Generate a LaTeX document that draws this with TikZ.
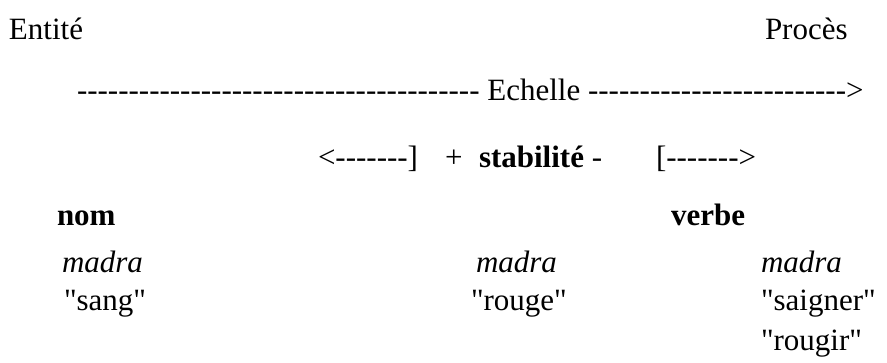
\documentclass[tikz,border=0pt]{standalone}
\usepackage{fontspec}
\setmainfont{Liberation Serif}[Ligatures=TeXOff]
\newcommand\hyrep[1]{\foreach \i in {1,...,#1}{-\kern0pt}}
\begin{document}
\begin{tikzpicture}[x=1pt,y=-1pt,
  txt/.style={anchor=base west,inner sep=0pt,outer sep=0pt,font=\fontsize{31}{36}\selectfont}]
\useasboundingbox (0,0) rectangle (887,362);
\node[txt] (entite) at (9,39) {Entité};
\node[txt] (proces) at (765,39) {Procès};
\node[txt] (echelle) at (77,100) {\hyrep{39} Echelle \hyrep{25}>};
\node[txt] (left) at (318,167) {<\hyrep{7}]};
\node[txt] (plus) at (445,167) {+};
\node[txt] (stab) at (479,167) {\textbf{stabilité} -};
\node[txt] (right) at (656,167) {[\hyrep{7}>};
\node[txt] (nom) at (57,225) {\textbf{nom}};
\node[txt] (verbe) at (671,225) {\textbf{verbe}};
\node[txt] (m1) at (62,272) {\textit{madra}};
\node[txt] (m2) at (476,272) {\textit{madra}};
\node[txt] (m3) at (761,272) {\textit{madra}};
\node[txt] (sang) at (64,310) {"sang"};
\node[txt] (rouge) at (471,310) {"rouge"};
\node[txt] (saigner) at (761,310) {"saigner"};
\node[txt] (rougir) at (761,350) {"rougir"};
\end{tikzpicture}
\end{document}
